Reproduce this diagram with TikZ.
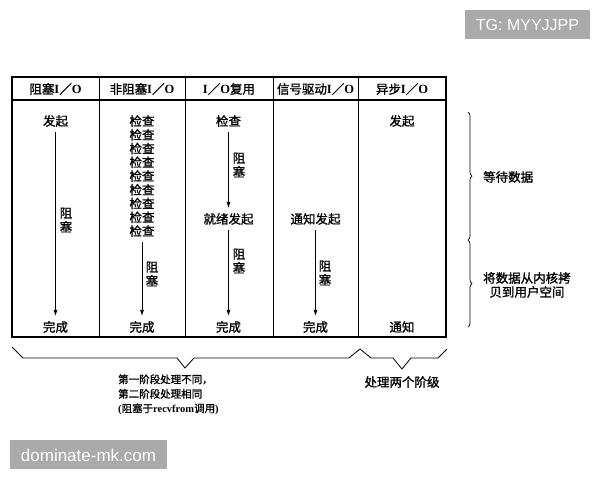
\documentclass[tikz,border=0pt]{standalone}
\usepackage{fontspec}
\setmainfont{Liberation Serif}
\newfontfamily\cjk[FakeBold=1.2]{Noto Sans CJK SC}
\newfontfamily\wmfont{Liberation Sans}
\usetikzlibrary{decorations.pathreplacing, arrows.meta}
\definecolor{wmgray}{HTML}{AAAAAA}
\newcommand\myio{{\rmfamily\bfseries I}／{\rmfamily\bfseries O}}
\begin{document}
\begin{tikzpicture}[x=1pt,y=-1pt,
  txt/.style={inner sep=0pt, font=\cjk\fontsize{12.5}{14}\selectfont, align=center},
  small/.style={inner sep=0pt, font=\cjk\fontsize{10.5}{14.5}\selectfont, align=left},
  stack/.style={inner sep=0pt, font=\cjk\fontsize{12.5}{13.75}\selectfont, align=center},
  flow/.style={-{Latex[length=6pt,width=4pt]}, line width=0.7pt, shorten <=5pt, shorten >=5pt},
  frame/.style={line width=1.2pt},
  sep/.style={line width=0.8pt},
  curly/.style={decorate, decoration={brace, amplitude=4pt}, line width=0.7pt},
  angbrace/.style={line width=0.8pt, line join=round},
  wmbox/.style={fill=wmgray, draw=none, text=white, inner sep=0pt}
]
\useasboundingbox (0,0) rectangle (600,480);

% table
\draw[frame] (12,77) rectangle (446,337);
\draw[line width=2pt] (12,100) -- (446,100);
\foreach \x in {99,185,273,358} \draw[sep] (\x,77) -- (\x,337);

% headers
\node[txt] (h1) at (55.5,89) {阻塞\myio};
\node[txt] (h2) at (142,89) {非阻塞\myio};
\node[txt] (h3) at (229,89) {\myio 复用};
\node[txt] (h4) at (315.5,89) {信号驱动\myio};
\node[txt] (h5) at (402,89) {异步\myio};

% column 1
\node[txt] (s1) at (55.5,121) {发起};
\node[txt] (e1) at (55.5,327) {完成};
\draw[flow] (s1) -- (e1);
\node[txt] (b1) at (66,220) {阻\\塞};

% column 2
\node[stack] (s2) at (142,176) {检查\\检查\\检查\\检查\\检查\\检查\\检查\\检查\\检查};
\node[txt] (e2) at (142,327) {完成};
\draw[flow] (s2) -- (e2);
\node[txt] (b2) at (152,274) {阻\\塞};

% column 3
\node[txt] (s3) at (228.5,121) {检查};
\node[txt] (r3) at (228.5,219) {就绪发起};
\node[txt] (e3) at (228.5,327) {完成};
\draw[flow] (s3) -- (r3);
\draw[flow] (r3) -- (e3);
\node[txt] (b3a) at (239,165) {阻\\塞};
\node[txt] (b3b) at (239,261) {阻\\塞};

% column 4
\node[txt] (s4) at (315.5,219) {通知发起};
\node[txt] (e4) at (315.5,327) {完成};
\draw[flow] (s4) -- (e4);
\node[txt] (b4) at (325,273) {阻\\塞};

% column 5
\node[txt] (s5) at (402,121) {发起};
\node[txt] (e5) at (402,327) {通知};

% right braces
\draw[curly] (468,112) -- (468,240);
\draw[curly] (468,240) -- (468,327);
\node[txt, anchor=west] (w1) at (483,177) {等待数据};
\node[txt, anchor=west] (w2) at (483,285) {将数据从内核拷\\贝到用户空间};

% bottom braces
\draw[angbrace] (12,347) -- (23,358) -- (177,358) -- (185,368) -- (194,358) -- (349,358) -- (360,349) -- (371,358) -- (393,358) -- (402,369) -- (411,358) -- (438,358) -- (447,349);
\node[small, anchor=west] (t1) at (118,394.5) {第一阶段处理不同，\\第二阶段处理相同\\{\rmfamily\bfseries (}阻塞于{\rmfamily\bfseries recvfrom}调用{\rmfamily\bfseries )}};
\node[txt] (t2) at (402,382) {处理两个阶级};

% watermarks
\fill[wmgray] (465,10) rectangle (590,39);
\node[wmbox, font=\wmfont\fontsize{16}{16}\selectfont] (wm1) at (527.5,25) {TG: MYYJJPP};
\fill[wmgray] (10,440) rectangle (167,469);
\node[wmbox, font=\wmfont\fontsize{17}{17}\selectfont] (wm2) at (88.5,455) {dominate-mk.com};
\end{tikzpicture}
\end{document}
